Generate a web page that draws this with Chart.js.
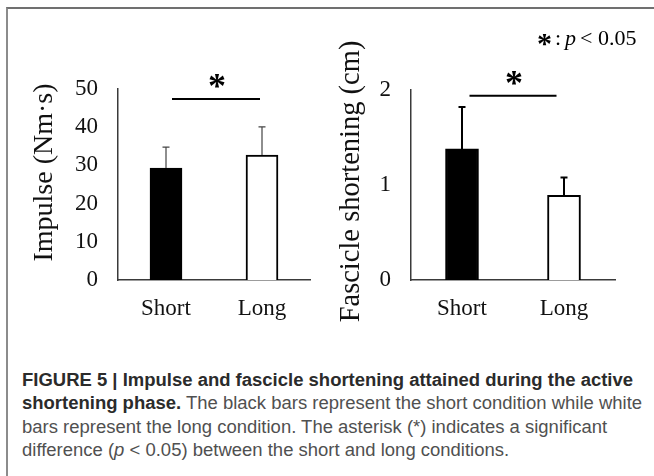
<!DOCTYPE html>
<html><head><meta charset="utf-8">
<script src="https://cdn.jsdelivr.net/npm/chart.js@4/dist/chart.umd.min.js"></script>
<style>
html,body{margin:0;padding:0;background:#fff;width:654px;height:476px;overflow:hidden;position:relative;}
#frame{position:absolute;left:6px;top:7px;width:648px;height:469px;border-left:2px solid #8c8c8c;border-top:2px solid #707070;box-sizing:border-box;}
#c1{position:absolute;left:0;top:0;}
#c2{position:absolute;left:327px;top:0;}
#caption{position:absolute;left:22px;top:369px;font-family:"Liberation Sans",Arial,Helvetica,sans-serif;font-size:17.5px;line-height:23.3px;color:#505050;white-space:nowrap;transform:scaleX(1.056);transform-origin:0 0;}
#caption b{color:#2b2b2b;}
</style></head>
<body>
<div id="frame"></div>
<canvas id="c1" width="327" height="330"></canvas>
<canvas id="c2" width="327" height="330"></canvas>
<div id="caption"><b>FIGURE 5 | Impulse and fascicle shortening attained during the active<br>shortening phase.</b> The black bars represent the short condition while white<br>bars represent the long condition. The asterisk (*) indicates a significant<br>difference (<i>p</i> &lt; 0.05) between the short and long conditions.</div>
<script>
// ---- data ----
const categories = ['Short', 'Long'];
const impulseMean = [29.3, 32.7];
const impulseSD = [5.5, 7.4];
const fascicleMean = [1.38, 0.89];
const fascicleSD = [0.44, 0.19];
const impulseTicks = [0, 10, 20, 30, 40, 50];
const fascicleTicks = [0, 1, 2];
const impulseSigLevel = 47.4;
const fascicleSigLevel = 1.94;
const impulseTitle = 'Impulse (Nm\u00B7s)';
const fascicleTitle = 'Fascicle shortening (cm)';

const SERIF = "'Liberation Serif','Times New Roman',Times,serif";

const errorBarPlugin = {
  id: 'errorBars',
  afterDatasetsDraw(chart, args, opts) {
    const ctx = chart.ctx;
    const meta = chart.getDatasetMeta(0);
    const ys = chart.scales.y;
    ctx.save();
    ctx.strokeStyle = opts.color;
    ctx.lineWidth = opts.width;
    opts.means.forEach((m, i) => {
      const x = meta.data[i].x;
      const yb = ys.getPixelForValue(m);
      const yt = ys.getPixelForValue(m + opts.sd[i]);
      ctx.beginPath();
      ctx.moveTo(x, yb);
      ctx.lineTo(x, yt);
      ctx.moveTo(x - opts.cap, yt);
      ctx.lineTo(x + opts.cap, yt);
      ctx.stroke();
    });
    ctx.restore();
  }
};

const sigPlugin = {
  id: 'sig',
  afterDraw(chart, args, opts) {
    const ctx = chart.ctx;
    const xs = chart.scales.x, ys = chart.scales.y;
    const x1 = xs.getPixelForValue(0) + opts.off1;
    const x2 = xs.getPixelForValue(1) + opts.off2;
    const y = ys.getPixelForValue(opts.level);
    ctx.save();
    ctx.strokeStyle = '#000';
    ctx.lineWidth = 2;
    ctx.beginPath();
    ctx.moveTo(x1, y); ctx.lineTo(x2, y);
    ctx.stroke();
    ctx.fillStyle = '#000';
    ctx.font = 'bold 36px ' + SERIF;
    ctx.textAlign = 'center';
    ctx.textBaseline = 'alphabetic';
    ctx.fillText('*', (x1 + x2) / 2 + 1, y - 1);
    // axis title
    ctx.fillStyle = '#111';
    ctx.font = opts.titleSize + 'px ' + SERIF;
    ctx.textBaseline = 'middle';
    ctx.translate(opts.titleX, opts.titleY);
    ctx.rotate(-Math.PI / 2);
    ctx.fillText(opts.title, 0, 0);
    ctx.setTransform(1, 0, 0, 1, 0, 0);
    if (opts.legend) {
      let lx = opts.legend.x, ly = opts.legend.y;
      ctx.fillStyle = '#000';
      ctx.textBaseline = 'alphabetic';
      ctx.textAlign = 'left';
      ctx.font = 'bold 30px ' + SERIF;
      ctx.fillText('*', lx, ly + 7.5);
      lx += ctx.measureText('*').width + 3;
      ctx.font = '22px ' + SERIF;
      ctx.fillText(':', lx, ly);
      lx += ctx.measureText(':').width + 4;
      ctx.font = 'italic 22px ' + SERIF;
      ctx.fillText('p', lx, ly);
      lx += ctx.measureText('p').width + 4;
      ctx.font = '22px ' + SERIF;
      ctx.fillText('< 0.05', lx, ly);
    }
    ctx.restore();
  }
};

function makeChart(id, cfg) {
  return new Chart(document.getElementById(id), {
    type: 'bar',
    data: {
      labels: categories,
      datasets: [{
        data: cfg.mean,
        backgroundColor: ['#000000', '#ffffff'],
        borderColor: '#000000',
        borderWidth: 2,
        barThickness: cfg.barW
      }]
    },
    options: {
      responsive: false,
      animation: false,
      events: [],
      layout: { padding: { top: cfg.top, right: cfg.right, left: 0, bottom: 0 } },
      plugins: {
        legend: { display: false },
        tooltip: { enabled: false },
        errorBars: { means: cfg.mean, sd: cfg.sd, color: cfg.ebColor, width: cfg.ebWidth, cap: 3.5 },
        sig: { level: cfg.sig, off1: cfg.off1, off2: cfg.off2, legend: cfg.legend,
               title: cfg.title, titleSize: cfg.titleSize, titleX: cfg.titleX, titleY: cfg.titleY }
      },
      scales: {
        x: {
          grid: { display: false, drawTicks: false },
          border: { display: true, color: '#3a3a3a', width: 1.5 },
          ticks: { font: { family: SERIF, size: 23 }, color: '#111', padding: 15 },
          afterFit(s) { s.height = 330 - cfg.bottom; }
        },
        y: {
          min: 0, max: cfg.ticks[cfg.ticks.length - 1],
          afterBuildTicks(s) { s.ticks = cfg.ticks.map(v => ({ value: v })); },
          grid: { display: false, drawTicks: false },
          border: { display: true, color: '#3a3a3a', width: 1.5 },
          ticks: { font: { family: SERIF, size: 23 }, color: '#111', padding: 20 },
          afterFit(s) { s.width = cfg.left; }
        }
      }
    },
    plugins: [errorBarPlugin, sigPlugin]
  });
}

makeChart('c1', {
  mean: impulseMean, sd: impulseSD, ticks: impulseTicks, sig: impulseSigLevel,
  title: impulseTitle, titleSize: 28, titleX: 45, titleY: 172.5,
  left: 118, right: 17, top: 89, bottom: 280, barW: 32,
  ebColor: '#444', ebWidth: 1.2, off1: 6, off2: -2, legend: null
});
makeChart('c2', {
  mean: fascicleMean, sd: fascicleSD, ticks: fascicleTicks, sig: fascicleSigLevel,
  title: fascicleTitle, titleSize: 28.5, titleX: 25, titleY: 181.5,
  left: 84, right: 39, top: 90, bottom: 280, barW: 33,
  ebColor: '#000', ebWidth: 2, off1: 7.5, off2: -7.5, legend: { x: 210, y: 45 }
});
</script>
</body></html>
